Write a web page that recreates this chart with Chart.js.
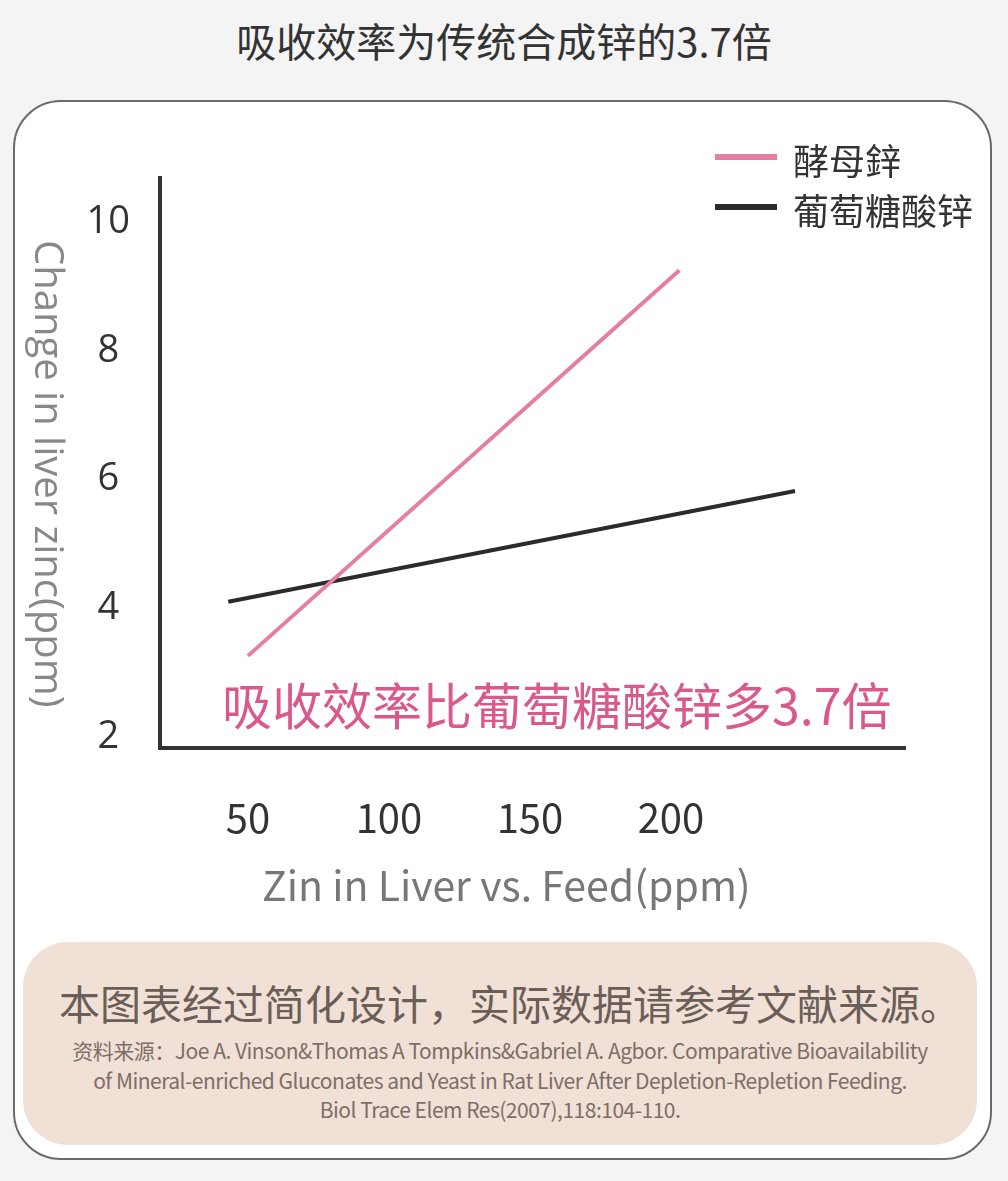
<!DOCTYPE html>
<html>
<head>
<meta charset="utf-8">
<script src="https://cdn.jsdelivr.net/npm/chart.js@4/dist/chart.umd.min.js"></script>
<style>
  html, body { margin:0; padding:0; }
  body { width:1008px; height:1181px; background:#f4f4f4; position:relative; overflow:hidden;
         font-family:"Noto Sans CJK SC","Noto Sans",sans-serif; }
  #title { position:absolute; left:0; width:1008px; top:15px; text-align:center; font-size:40px;
           line-height:50px; color:#333; }
  #card { position:absolute; left:13px; top:100px; width:975px; height:1056px; background:#fff;
          border:2px solid #6a6a6a; border-radius:48px; }
  #chartWrap { position:absolute; left:0; top:100px; width:1008px; height:806px; }
  #legend { position:absolute; left:715px; top:134px; }
  .li { position:relative; height:50px; }
  .li .sw { position:absolute; left:0; top:20px; width:62px; height:6px; }
  .li .tx { position:absolute; left:78px; top:0; font-size:36px; line-height:50px; color:#333; white-space:nowrap; }
  #ytitle { position:absolute; left:26px; top:240px; writing-mode:vertical-rl; font-family:"Open Sans",sans-serif;
            font-size:40px; line-height:48px; color:#888; white-space:nowrap; }
  #xtitle { position:absolute; left:262px; top:858px; font-size:41px; line-height:50px; color:#777; white-space:nowrap; }
  #note { position:absolute; left:222px; top:673px; font-size:50px; line-height:60px; color:#d9598c; white-space:nowrap; }
  #foot { position:absolute; left:23px; top:942px; width:954px; height:203px; background:#f0e0d6; border-radius:45px; text-align:center; }
  #foot .main { position:absolute; left:10px; width:954px; top:35px; font-size:41px; line-height:50px; color:#6b5e58; }
  #foot .src { position:absolute; left:0; width:954px; top:94px; font-size:21px; line-height:29.5px; color:#7d6e68; letter-spacing:-0.5px; }
</style>
</head>
<body>
<div id="title">吸收效率为传统合成锌的3.7倍</div>
<div id="card"></div>
<div id="chartWrap"><canvas id="c" width="1008" height="806"></canvas></div>
<div id="legend"></div>
<div id="ytitle"></div>
<div id="xtitle"></div>
<div id="note">吸收效率比葡萄糖酸锌多3.7倍</div>
<div id="foot">
  <div class="main">本图表经过简化设计，实际数据请参考文献来源。</div>
  <div class="src">资料来源：Joe A. Vinson&amp;Thomas A Tompkins&amp;Gabriel A. Agbor. Comparative Bioavailability<br>of Mineral-enriched Gluconates and Yeast in Rat Liver After Depletion-Repletion Feeding.<br>Biol Trace Elem Res(2007),118:104-110.</div>
</div>
<script>
// ---- data ----
const seriesNames = ["酵母鋅", "葡萄糖酸锌"];
const yeastX = [50, 203];
const yeastY = [3.26, 9.25];
const gluconateX = [43, 244];
const gluconateY = [4.10, 5.82];
const xTicks = [50, 100, 150, 200];
const yTicks = [2, 4, 6, 8, 10];
const xTitle = "Zin in Liver vs. Feed(ppm)";
const yTitle = "Change in liver zinc(ppm)";
const colors = ["#e57ea2", "#2b2b2b"];

document.getElementById('ytitle').textContent = yTitle;
document.getElementById('xtitle').textContent = xTitle;
const legend = document.getElementById('legend');
seriesNames.forEach((n, i) => {
  const d = document.createElement('div'); d.className = 'li';
  d.innerHTML = '<div class="sw" style="background:' + colors[i] + '"></div><div class="tx">' + n + '</div>';
  legend.appendChild(d);
});

const toPts = (xs, ys) => xs.map((x, i) => ({x: x, y: ys[i]}));

new Chart(document.getElementById('c'), {
  type: 'line',
  data: {
    datasets: [
      { label: seriesNames[0], data: toPts(yeastX, yeastY), borderColor: colors[0], borderWidth: 4, pointRadius: 0, fill: false, tension: 0 },
      { label: seriesNames[1], data: toPts(gluconateX, gluconateY), borderColor: colors[1], borderWidth: 4, pointRadius: 0, fill: false, tension: 0 }
    ]
  },
  options: {
    responsive: false,
    animation: false,
    maintainAspectRatio: false,
    devicePixelRatio: 1,
    layout: { padding: { top: 78, right: 103, bottom: 0, left: 0 } },
    plugins: { legend: { display: false }, tooltip: { enabled: false } },
    scales: {
      x: {
        type: 'linear', min: 18.8, max: 283,
        afterBuildTicks: s => { s.ticks = xTicks.map(v => ({value: v})); },
        afterFit: s => { s.height = 158; },
        grid: { display: false, drawTicks: false },
        border: { display: true, color: '#333', width: 4 },
        ticks: { padding: 46, color: '#333', font: { family: '"Noto Sans CJK SC"', size: 40 }, maxRotation: 0 },
        title: { display: false, text: xTitle }
      },
      y: {
        type: 'linear', min: 1.829, max: 10.683,
        afterBuildTicks: s => { s.ticks = yTicks.map(v => ({value: v})); },
        afterFit: s => { s.width = 160; },
        grid: { display: false, drawTicks: false },
        border: { display: true, color: '#333', width: 4 },
        ticks: { padding: 30, crossAlign: 'center', color: '#333', font: { family: '"Open Sans"', size: 38 } },
        title: { display: false, text: yTitle }
      }
    }
  }
});
</script>
</body>
</html>
